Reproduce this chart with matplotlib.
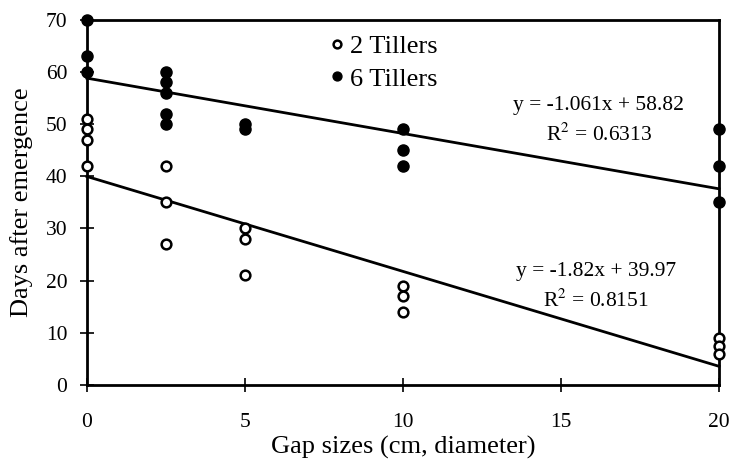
import matplotlib
matplotlib.use("Agg")
import matplotlib.pyplot as plt
import numpy as np

# Data
x2 = [0, 0, 0, 0, 2.5, 2.5, 2.5, 5, 5, 5, 10, 10, 10, 20, 20, 20]
y2 = [51, 49, 47, 42, 42, 35, 27, 30, 28, 21, 19, 17, 14, 9, 7.5, 6]
x6 = [0, 0, 0, 2.5, 2.5, 2.5, 2.5, 2.5, 5, 5, 10, 10, 10, 20, 20, 20]
y6 = [70, 63, 60, 60, 58, 56, 52, 50, 50, 49, 49, 45, 42, 49, 42, 35]
slope2, icpt2 = -1.82, 39.97
slope6, icpt6 = -1.061, 58.82
eq2 = ["y = -1.82x + 39.97", "R$^2$ = 0.8151"]
eq6 = ["y = -1.061x + 58.82", "R$^2$ = 0.6313"]
xticks = [0, 5, 10, 15, 20]
yticks = [0, 10, 20, 30, 40, 50, 60, 70]

plt.rcParams['font.family'] = ['Liberation Serif', 'DejaVu Serif']
plt.rcParams['mathtext.fontset'] = 'stix'

fig = plt.figure(figsize=(7.3, 4.61), dpi=100)
ax = fig.add_axes([0.119, 0.165, 0.866, 0.792])

xl = np.array([0, 20])
ax.plot(xl, slope6 * xl + icpt6, color='black', lw=2, clip_on=False, zorder=2)
ax.plot(xl, slope2 * xl + icpt2, color='black', lw=2, clip_on=False, zorder=2)

ax.plot(x2, y2, 'o', ms=7, mfc='white', mec='black', mew=1.8, clip_on=False, zorder=3, label='2 Tillers')
ax.plot(x6, y6, 'o', ms=8, mfc='black', mec='black', clip_on=False, zorder=3, label='6 Tillers')

ax.set_xlim(0, 20)
ax.set_ylim(0, 70)
ax.set_xticks(xticks)
ax.set_yticks(yticks)
ax.tick_params(direction='inout', length=10, width=1.2, labelsize=15.5)
ax.tick_params(axis='x', pad=15)
ax.tick_params(axis='y', pad=9)
for s in ax.spines.values():
    s.set_linewidth(2)

ax.set_xlabel('Gap sizes (cm, diameter)', fontsize=19, labelpad=3)
ax.set_ylabel('Days after emergence', fontsize=19, labelpad=9)

leg = ax.legend(loc='upper left', bbox_to_anchor=(0.352, 1.0), frameon=False,
                fontsize=19, handletextpad=0.0, handlelength=1.0, labelspacing=0.35,
                markerscale=0.8, borderaxespad=0.15)

ax.text(16.17, 53.5, eq6[0], ha='center', va='center', fontsize=15.5)
ax.text(16.2, 47.9, eq6[1], ha='center', va='center', fontsize=15.5)
ax.text(16.1, 21.7, eq2[0], ha='center', va='center', fontsize=15.5)
ax.text(16.1, 16.1, eq2[1], ha='center', va='center', fontsize=15.5)

fig.savefig('out.png', dpi=100)
